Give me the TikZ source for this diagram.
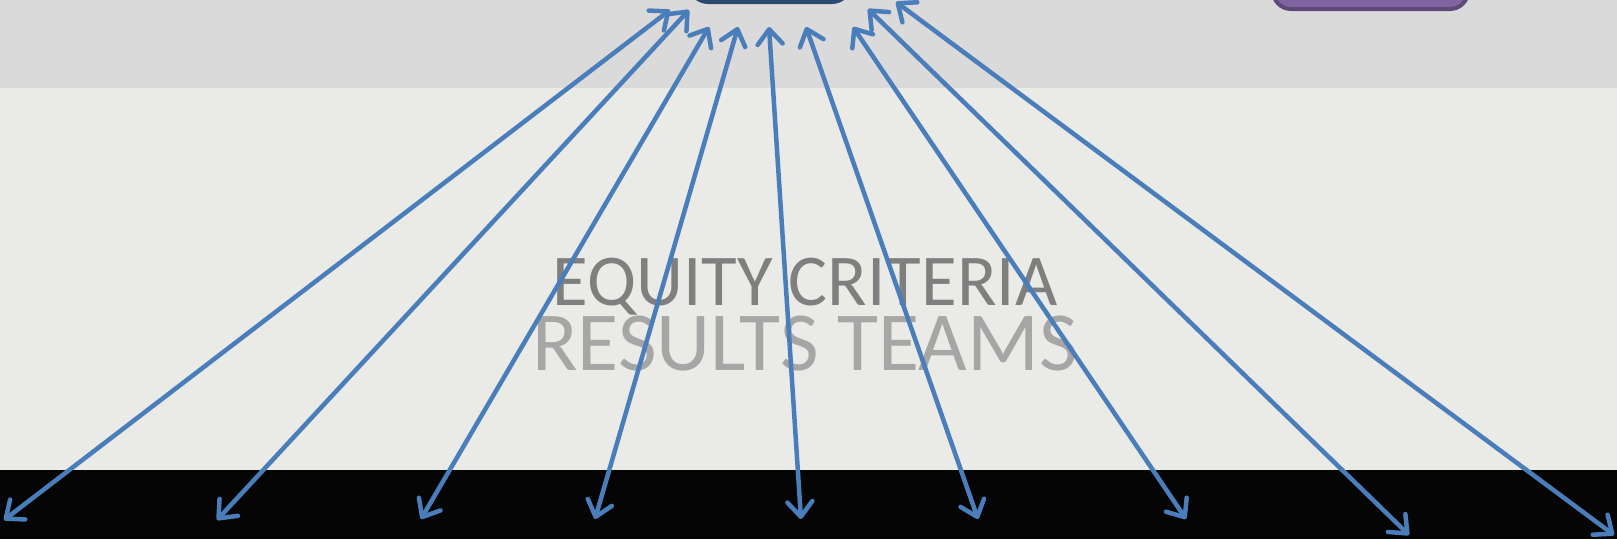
\documentclass[tikz,border=0pt]{standalone}
\usepackage{fontspec}
\setmainfont{Carlito}
\usetikzlibrary{arrows.meta}
\definecolor{topgray}{HTML}{DADADA}
\definecolor{texgray}{HTML}{EAEAE7}
\definecolor{arrowblue}{HTML}{4A7EBB}
\definecolor{boxblue}{HTML}{3F6391}
\definecolor{boxblueline}{HTML}{2C4A70}
\definecolor{boxpurple}{HTML}{8064A2}
\definecolor{boxpurpleline}{HTML}{5F497A}
\definecolor{textdark}{HTML}{7F7F7F}
\definecolor{textlight}{HTML}{A6A6A6}
\begin{document}
\begin{tikzpicture}[x=1pt,y=-1pt,
  barb/.tip={Straight Barb[length=15pt,width=25pt,line width=4.5pt,round]},
  conn/.style={draw=arrowblue, line width=4.5pt, barb-barb},
  topbox/.style={rounded corners=18pt, line width=4pt}]
\useasboundingbox (0,0) rectangle (1617,539);
\clip (0,0) rectangle (1617,539);
% backgrounds
\fill[topgray] (0,0) rectangle (1617,88);
\fill[texgray] (0,88) rectangle (1617,470);
\fill[black!98] (0,470) rectangle (1617,539);
% boxes at top
\draw[topbox, fill=boxblue, draw=boxblueline] (690,-60) rectangle (850,2) node[midway] (hub) {};
\draw[topbox, fill=boxpurple, draw=boxpurpleline] (1273,-60) rectangle (1468,9) node[midway] (pbox) {};
% texts
\node[text=textdark, font=\fontsize{73}{88}\selectfont, inner sep=0pt, anchor=base] (eq) at (805,305) {EQUITY CRITERIA};
\node[text=textlight, font=\fontsize{84}{100}\selectfont, inner sep=0pt, anchor=base] (rt) at (805,370) {RESULTS TEAMS};
% coordinates
\coordinate (t1) at (670,10);
\coordinate (t2) at (689,10);
\coordinate (t3) at (709,27);
\coordinate (t4) at (738,27);
\coordinate (t5) at (769,27);
\coordinate (t6) at (806,27);
\coordinate (t7) at (853,27);
\coordinate (t8) at (868,9);
\coordinate (t9) at (896,2);
\coordinate (b1) at (4,520);
\coordinate (b2) at (217,520);
\coordinate (b3) at (421,519);
\coordinate (b4) at (595,519);
\coordinate (b5) at (801,519);
\coordinate (b6) at (978,519);
\coordinate (b7) at (1186,519);
\coordinate (b8) at (1409,535);
\coordinate (b9) at (1614,535);
\foreach \i in {1,...,9} {\draw[conn] (t\i) -- (b\i);}
\end{tikzpicture}
\end{document}
